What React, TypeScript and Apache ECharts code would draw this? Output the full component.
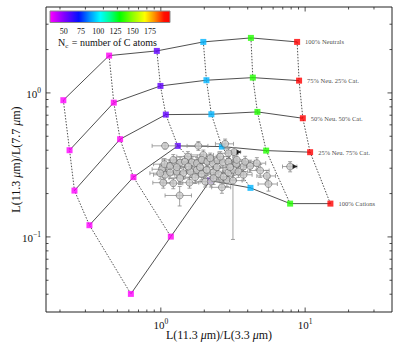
import React, { useEffect, useRef } from 'react';
import * as echarts from 'echarts';

// axis limits (data units, log axes)
const xLimits = [0.16, 40];
const yLimits = [0.0301, 3.95];

// tick positions
const xMajorTicks = [1, 10];
const xMinorTicks = [0.2, 0.3, 0.4, 0.5, 0.6, 0.7, 0.8, 0.9, 2, 3, 4, 5, 6, 7, 8, 9, 20, 30];
const yMajorTicks = [0.1, 1];
const yMinorTicks = [0.04, 0.05, 0.06, 0.07, 0.08, 0.09, 0.2, 0.3, 0.4, 0.5, 0.6, 0.7, 0.8, 0.9, 2, 3];

// model grid: rows = charge state mix, columns = PAH size
const rowLabels = ['100% Neutrals', '75% Neu. 25% Cat.', '50% Neu. 50% Cat.', '25% Neu. 75% Cat.', '100% Cations'];
const modelRowNeutral = { x: [0.211, 0.438, 0.938, 1.97, 4.21, 8.8], y: [0.89, 1.816, 1.957, 2.26, 2.41, 2.26] };
const modelRow75 = { x: [0.233, 0.472, 0.994, 2.07, 4.34, 9.08], y: [0.4, 0.856, 1.118, 1.225, 1.277, 1.217] };
const modelRow50 = { x: [0.252, 0.522, 1.083, 2.24, 4.67, 9.64], y: [0.2097, 0.477, 0.707, 0.711, 0.738, 0.667] };
const modelRow25 = { x: [0.32, 0.646, 1.311, 2.65, 5.37, 10.83], y: [0.1206, 0.26, 0.4285, 0.424, 0.3975, 0.3876] };
const modelRowCation = { x: [0.62, 1.173, 2.196, 4.18, 7.87, 14.97], y: [0.0402, 0.1005, 0.246, 0.219, 0.1703, 0.1703] };
const modelRows = [modelRowNeutral, modelRow75, modelRow50, modelRow25, modelRowCation];
const columnColors = ['#ff00ff', '#ff00f4', '#6200ff', '#00b4ff', '#22ff00', '#ff0000'];

// observations with error bars
const obsX = [1.07, 1.82, 2.79, 3.22, 7.87, 1.35, 1.54, 1.97, 1.02, 1.06, 1.16, 1.26, 1.36, 1.47, 1.64, 1.78, 1.92, 2.1, 2.29, 2.47, 2.69, 2.94, 3.33, 3.74, 4.16, 4.88, 5.43, 5.57, 1.04, 1.22, 1.58, 2.03, 2.22, 2.65, 2.87, 1.07, 1.16, 1.29, 1.43, 1.6, 1.78, 1.92, 2.08, 2.32, 2.51, 2.72, 2.94, 3.19, 3.45, 3.74, 1.36, 1.73, 2.32, 3.16, 0.99, 1.87, 2.44, 3.02, 1.29, 1.55, 3.36, 3.84, 2.58, 2.94, 2.2, 4.63, 1.22];
const obsY = [0.429, 0.429, 0.443, 0.388, 0.308, 0.194, 0.361, 0.371, 0.295, 0.32, 0.311, 0.325, 0.328, 0.333, 0.33, 0.325, 0.343, 0.333, 0.325, 0.339, 0.33, 0.333, 0.32, 0.308, 0.311, 0.289, 0.265, 0.233, 0.238, 0.236, 0.238, 0.242, 0.242, 0.221, 0.249, 0.27, 0.28, 0.284, 0.277, 0.284, 0.292, 0.274, 0.292, 0.281, 0.273, 0.262, 0.28, 0.292, 0.284, 0.27, 0.256, 0.26, 0.256, 0.246, 0.277, 0.305, 0.305, 0.305, 0.305, 0.308, 0.343, 0.333, 0.361, 0.381, 0.352, 0.325, 0.343];
const obsXErr = [0.2, 0.3, 0.4, 0.35, 0.9, 0.28, 0.25, 0.35, 0.15, 0.17, 0.18, 0.2, 0.22, 0.25, 0.25, 0.3, 0.28, 0.32, 0.35, 0.4, 0.42, 0.45, 0.5, 0.55, 0.6, 0.75, 0.8, 0.85, 0.16, 0.2, 0.25, 0.3, 0.35, 0.4, 0.45, 0.18, 0.18, 0.2, 0.22, 0.26, 0.28, 0.3, 0.32, 0.36, 0.4, 0.42, 0.45, 0.5, 0.55, 0.55, 0.22, 0.26, 0.36, 0.5, 0.15, 0.28, 0.38, 0.45, 0.2, 0.24, 0.5, 0.6, 0.4, 0.45, 0.35, 0.7, 0.2];
const obsYErr = [0.02, 0.03, 0.035, 0.03, 0.025, 0.03, 0.03, 0.03, 0.025, 0.03, 0.03, 0.03, 0.03, 0.03, 0.03, 0.03, 0.03, 0.03, 0.03, 0.03, 0.03, 0.03, 0.03, 0.03, 0.03, 0.03, 0.025, 0.025, 0.02, 0.02, 0.02, 0.02, 0.02, 0.02, 0.025, 0.025, 0.025, 0.025, 0.025, 0.025, 0.025, 0.025, 0.025, 0.025, 0.025, 0.025, 0.025, 0.025, 0.025, 0.025, 0.025, 0.025, 0.025, 0.15, 0.025, 0.03, 0.03, 0.03, 0.03, 0.03, 0.03, 0.03, 0.03, 0.03, 0.03, 0.03, 0.03];
// lower limits (arrows)
const limitX = [3.22, 7.87];
const limitY = [0.388, 0.308];

// colorbar
const colorbarTicks = [50, 75, 100, 125, 150, 175];
const colorbarRange = [30, 204];

const lg = (v: number) => Math.log10(v);
const FONT = "'Liberation Serif', 'DejaVu Serif', serif";

export default function App() {
  const ref = useRef<HTMLDivElement>(null);
  useEffect(() => {
    const chart = echarts.init(ref.current!, undefined, { renderer: 'svg' });
    const xMin = lg(xLimits[0]);
    const xMax = lg(xLimits[1]);
    const yMin = lg(yLimits[0]);
    const yMax = lg(yLimits[1]);

    const rowSeries = modelRows.map((r) => ({
      type: 'line',
      data: r.x.map((x, i) => [lg(x), lg(r.y[i])]),
      symbol: 'none',
      lineStyle: { color: '#3c3c3c', width: 0.9 },
      z: 2,
      silent: true,
    }));
    const colSeries = columnColors.map((_, c) => ({
      type: 'line',
      data: modelRows.map((r) => [lg(r.x[c]), lg(r.y[c])]),
      symbol: 'none',
      lineStyle: { color: '#3c3c3c', width: 0.9, type: [1.5, 1.5] },
      z: 2,
      silent: true,
    }));
    const markerData: any[] = [];
    modelRows.forEach((r, ri) => {
      r.x.forEach((x, ci) => {
        const item: any = { value: [lg(x), lg(r.y[ci])], itemStyle: { color: columnColors[ci] } };
        if (ci === r.x.length - 1) {
          item.label = {
            show: true,
            position: 'right',
            distance: 5,
            formatter: rowLabels[ri],
            fontSize: 6.5,
            fontFamily: FONT,
            color: '#111',
          };
        }
        markerData.push(item);
      });
    });

    const obsData = obsX.map((x, i) => [lg(x), lg(obsY[i]), x, obsY[i], obsXErr[i], obsYErr[i]]);

    const tickData: number[][] = [];
    xMajorTicks.forEach((v) => tickData.push([lg(v), yMin, 0, 1]));
    xMinorTicks.forEach((v) => tickData.push([lg(v), yMin, 0, 0]));
    yMajorTicks.forEach((v) => tickData.push([xMin, lg(v), 1, 1]));
    yMinorTicks.forEach((v) => tickData.push([xMin, lg(v), 1, 0]));

    const expLabel = (v: number) => {
      const n = Math.round(v);
      if (Math.abs(v - n) > 1e-6) return '';
      return `{b|10}{e|${n < 0 ? '\u2212' + -n : n}}`;
    };
    const labelRich = {
      b: { fontSize: 11, fontFamily: FONT, color: '#111', verticalAlign: 'bottom' },
      e: { fontSize: 7.5, fontFamily: FONT, color: '#111', verticalAlign: 'bottom', padding: [0, 0, 5, 0] },
    };
    const nameRich = {
      n: { fontSize: 12, fontFamily: FONT, color: '#111' },
      i: { fontSize: 12, fontFamily: FONT, color: '#111', fontStyle: 'italic' },
    };

    const cbX = 50, cbY = 11, cbW = 120, cbH = 11.5;
    const cbGraphics: any[] = [
      {
        type: 'rect',
        shape: { x: cbX, y: cbY, width: cbW, height: cbH },
        style: {
          fill: new echarts.graphic.LinearGradient(0, 0, 1, 0, [
            { offset: 0, color: '#ff00ff' },
            { offset: 0.12, color: '#8000ff' },
            { offset: 0.24, color: '#0010ff' },
            { offset: 0.33, color: '#0090ff' },
            { offset: 0.42, color: '#00ffff' },
            { offset: 0.5, color: '#00ff90' },
            { offset: 0.58, color: '#00ff00' },
            { offset: 0.69, color: '#90ff00' },
            { offset: 0.79, color: '#ffff00' },
            { offset: 0.87, color: '#ff9000' },
            { offset: 0.95, color: '#ff1000' },
            { offset: 1, color: '#ff0000' },
          ]),
          stroke: '#8a8a8a',
          lineWidth: 1,
        },
        z: 20,
      },
      ...colorbarTicks.map((t) => ({
        type: 'text',
        x: cbX + ((t - colorbarRange[0]) / (colorbarRange[1] - colorbarRange[0])) * cbW,
        y: 31,
        style: { text: String(t), fontSize: 8, fontFamily: FONT, fill: '#111', align: 'center', verticalAlign: 'middle' },
        z: 20,
      })),
      {
        type: 'text',
        x: 58,
        y: 42,
        style: {
          text: '{n|N}{s|c}{n| = number of C atoms}',
          verticalAlign: 'middle',
          rich: {
            n: { fontSize: 10, fontFamily: FONT, fill: '#111', verticalAlign: 'bottom' },
            s: { fontSize: 7, fontFamily: FONT, fill: '#111', verticalAlign: 'bottom', padding: [0, 1, -2, 0] },
          },
        },
        z: 20,
      },
    ];

    chart.setOption({
      animation: false,
      backgroundColor: '#ffffff',
      grid: {
        left: 46, top: 7, width: 346, height: 305,
        containLabel: false,
        outerBoundsMode: 'none',
        show: true, borderColor: '#222', borderWidth: 1, backgroundColor: 'transparent',
      },
      xAxis: {
        type: 'value',
        min: xMin,
        max: xMax,
        axisLine: { show: false },
        axisTick: { show: false },
        splitLine: { show: false },
        axisLabel: { formatter: expLabel, rich: labelRich, margin: 5 },
        name: '{n|L(11.3 }{i|\u03bc}{n|m)/L(3.3 }{i|\u03bc}{n|m)}',
        nameLocation: 'middle',
        nameGap: 17,
        nameMoveOverlap: false,
        nameTextStyle: { rich: nameRich },
      },
      yAxis: {
        type: 'value',
        min: yMin,
        max: yMax,
        axisLine: { show: false },
        axisTick: { show: false },
        splitLine: { show: false },
        axisLabel: { formatter: expLabel, rich: labelRich, margin: 5 },
        name: '{n|L(11.3 }{i|\u03bc}{n|m)/L(7.7 }{i|\u03bc}{n|m)}',
        nameLocation: 'middle',
        nameGap: 24,
        nameRotate: 90,
        nameMoveOverlap: false,
        nameTextStyle: { rich: nameRich },
      },
      graphic: cbGraphics,
      series: [
        ...rowSeries,
        ...colSeries,
        {
          type: 'scatter',
          data: markerData,
          symbol: 'rect',
          symbolSize: 6,
          z: 3,
          silent: true,
        },
        {
          type: 'custom',
          data: obsData,
          encode: { x: 0, y: 1 },
          z: 4,
          silent: true,
          renderItem: (params: any, api: any) => {
            const x = api.value(2), y = api.value(3), xe = api.value(4), ye = api.value(5);
            const c = api.coord([lg(x), lg(y)]);
            const xl = api.coord([lg(Math.max(x - xe, 1e-3)), lg(y)]);
            const xr = api.coord([lg(x + xe), lg(y)]);
            const yt = api.coord([lg(x), lg(y + ye)]);
            const yb = api.coord([lg(x), lg(Math.max(y - ye, 1e-3))]);
            const cap = 2;
            const style = { stroke: '#8c8c8c', lineWidth: 0.8 };
            return {
              type: 'group',
              children: [
                { type: 'line', shape: { x1: xl[0], y1: c[1], x2: xr[0], y2: c[1] }, style },
                { type: 'line', shape: { x1: c[0], y1: yt[1], x2: c[0], y2: yb[1] }, style },
                { type: 'line', shape: { x1: xl[0], y1: c[1] - cap, x2: xl[0], y2: c[1] + cap }, style },
                { type: 'line', shape: { x1: xr[0], y1: c[1] - cap, x2: xr[0], y2: c[1] + cap }, style },
                { type: 'line', shape: { x1: c[0] - cap, y1: yt[1], x2: c[0] + cap, y2: yt[1] }, style },
                { type: 'line', shape: { x1: c[0] - cap, y1: yb[1], x2: c[0] + cap, y2: yb[1] }, style },
              ],
            };
          },
        },
        {
          type: 'scatter',
          data: obsX.map((x, i) => [lg(x), lg(obsY[i])]),
          symbol: 'circle',
          symbolSize: 7,
          itemStyle: { color: '#c9c9c9', borderColor: '#4a4a4a', borderWidth: 0.6 },
          z: 5,
          silent: true,
        },
        {
          type: 'scatter',
          data: limitX.map((x, i) => [lg(x), lg(limitY[i])]),
          symbol: 'triangle',
          symbolRotate: -90,
          symbolSize: 5,
          symbolOffset: [5, 0],
          itemStyle: { color: '#000' },
          z: 6,
          silent: true,
        },
        {
          type: 'custom',
          data: tickData,
          encode: { x: 0, y: 1 },
          z: 7,
          silent: true,
          renderItem: (params: any, api: any) => {
            const cs = params.coordSys;
            const kind = api.value(2);
            const len = api.value(3) ? 4.5 : 2.5;
            const p = api.coord([api.value(0), api.value(1)]);
            const style = { stroke: '#222', lineWidth: 0.8 };
            if (kind === 0) {
              const X = p[0];
              return {
                type: 'group',
                children: [
                  { type: 'line', shape: { x1: X, y1: cs.y + cs.height, x2: X, y2: cs.y + cs.height - len }, style },
                  { type: 'line', shape: { x1: X, y1: cs.y, x2: X, y2: cs.y + len }, style },
                ],
              };
            }
            const Y = p[1];
            return {
              type: 'group',
              children: [
                { type: 'line', shape: { x1: cs.x, y1: Y, x2: cs.x + len, y2: Y }, style },
                { type: 'line', shape: { x1: cs.x + cs.width, y1: Y, x2: cs.x + cs.width - len, y2: Y }, style },
              ],
            };
          },
        },
      ],
    });
    return () => chart.dispose();
  }, []);
  return <div ref={ref} style={{ position: 'fixed', left: 0, top: 0, width: 399, height: 349 }} />;
}
